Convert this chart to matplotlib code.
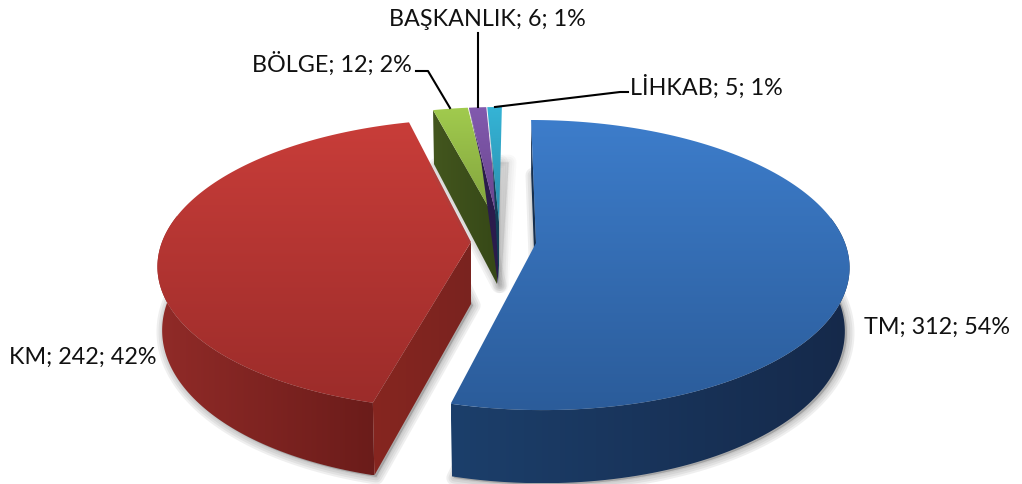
import numpy as np
import matplotlib
matplotlib.use('Agg')
import matplotlib.pyplot as plt
from matplotlib.colors import LinearSegmentedColormap
from matplotlib.patches import Polygon

# data
categories = ['TM', 'KM', 'BÖLGE', 'BAŞKANLIK', 'LİHKAB']
values = [312, 242, 12, 6, 5]

# layout of each exploded slice, in pixels
apex_x = [536, 471, 497, 498, 499]
apex_y = [243, 242, 222, 222, 222]
skew = [0.04, -0.04, -0.025, -0.025, -0.025]
radial = [1.0, 1.0, 0.935, 0.935, 0.935]
lean = [0, 0, 0, 12, 5]
shadow_alpha = [0.1, 0.1, 0.08, 0.04, 0.04]

top_colors = [('#3d7dcb', '#2b5c9a'), ('#c83d39', '#9c2c2a'), ('#a1cb4e', '#7f9f3c'),
              ('#825aae', '#67448c'), ('#35b4d6', '#2a8cab')]
wall_colors = [('#1c3f6b', '#15294a'), ('#912b28', '#6b1c1a'), ('#3c4f1a', '#3c4f1a'),
               ('#2b1c4c', '#2b1c4c'), ('#123f56', '#123f56')]
face_colors = [('#17304f', '#17304f'), ('#86261f', '#7a2320'), ('#43561e', '#364817'),
               ('#2b1c4c', '#2b1c4c'), ('#123f56', '#123f56')]

label_pos = [(937, 327), (83, 357), (332, 64), (487, 20), (706, 87)]
leaders = [None, None,
           ([416, 428, 450], [71, 71, 108]),
           ([478, 478], [33, 107]),
           ([628, 620, 495], [92, 92, 107])]

RX = 309
RY = 141.7
K = 0.152
DEPTH = 62
SHRINK = 0.985

plt.rcParams['font.family'] = ['Lato', 'DejaVu Sans']
fig = plt.figure(figsize=(10.22, 4.84), dpi=100)
ax = fig.add_axes([0, 0, 1, 1])
ax.set_xlim(0, 1022)
ax.set_ylim(484, 0)
ax.axis('off')


def project(i, deg, r=1.0):
    # clockwise from the top of the pie, with a bit of perspective
    t = np.radians(deg)
    x = r * np.sin(t)
    y = r * np.cos(t)
    w = 1 + K * y
    dx = RX * x / w
    dy = -RY * radial[i] * y / w
    return dx + skew[i] * dy, dy, DEPTH / w


def fill_gradient(pts, c1, c2, vertical=True, z=2):
    pts = np.array(pts)
    patch = Polygon(pts, closed=True, fc='none', ec='none', zorder=z)
    ax.add_patch(patch)
    cmap = LinearSegmentedColormap.from_list('g', [c1, c2])
    grad = np.linspace(0, 1, 256)
    grad = grad[:, None] if vertical else grad[None, :]
    extent = [pts[:, 0].min(), pts[:, 0].max(), pts[:, 1].max(), pts[:, 1].min()]
    im = ax.imshow(grad, cmap=cmap, extent=extent, origin='upper', aspect='auto',
                   interpolation='bilinear', zorder=z)
    im.set_clip_path(patch)


def draw_slice(i, a0, a1, z):
    cx, cy = apex_x[i], apex_y[i]
    angles = np.linspace(a0, a1, 150)
    dx, dy, depth = project(i, angles)
    top_x = cx + dx
    top_y = cy + dy
    bot_x = cx + dx * SHRINK
    bot_y = top_y + depth

    # only the front of the rim can be seen
    front = np.cos(np.radians(angles)) < 0.2
    outline = list(zip(top_x[front], top_y[front])) + list(zip(bot_x[front][::-1], bot_y[front][::-1]))
    face = [(cx, cy), (top_x[0], top_y[0]), (bot_x[0] + lean[i], bot_y[0]), (cx, cy + DEPTH)]
    top = [(cx, cy)] + list(zip(top_x, top_y))
    under = [(cx, cy + DEPTH)] + list(zip(bot_x + lean[i], bot_y))

    # soft shadow around the underside, small slices keep it under their own tops
    shadow_z = z if i < 2 else 3.9
    for lw in [11, 8, 5, 2]:
        ax.add_patch(Polygon(np.array(under) + [2, 1.5], closed=True, fc='#666666', ec='#666666',
                             lw=lw, alpha=shadow_alpha[i], joinstyle='round', zorder=shadow_z))

    if len(outline) > 0:
        fill_gradient(outline, wall_colors[i][0], wall_colors[i][1], vertical=False, z=z + 0.1)
    fill_gradient(face, face_colors[i][0], face_colors[i][1], vertical=False, z=z + 0.2)
    fill_gradient(top, top_colors[i][0], top_colors[i][1], vertical=True, z=z + 0.3)


total = sum(values)
angle = 0
for i, v in enumerate(values):
    sweep = v / total * 360
    draw_slice(i, angle, angle + sweep, z=2 + i)
    angle += sweep

for i, cat in enumerate(categories):
    pct = round(values[i] / total * 100)
    x, y = label_pos[i]
    ax.text(x, y, f'{cat}; {values[i]}; {pct}%', ha='center', va='center', fontsize=16.8,
            color='#111111', zorder=20)
    if leaders[i] is not None:
        ax.plot(leaders[i][0], leaders[i][1], color='black', lw=1.5, zorder=20)

ax.set_xlim(0, 1022)
ax.set_ylim(484, 0)
fig.savefig('out.png', dpi=100)
